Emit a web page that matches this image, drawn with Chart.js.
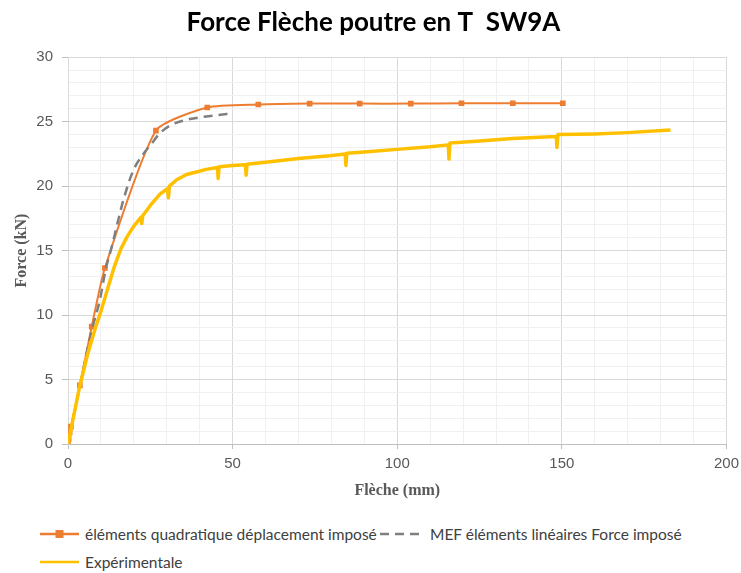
<!DOCTYPE html>
<html>
<head>
<meta charset="utf-8">
<script src="https://cdn.jsdelivr.net/npm/chart.js@4"></script>
<style>
  body { margin: 0; background: #fff; }
  .wrap { position: relative; width: 741px; height: 573px; background: #fff; overflow: hidden; }
  .chart { position: absolute; left: 0; top: 0; width: 745px; height: 505px; }
  .legend { position: absolute; left: 0; top: 0; font-family: Lato, "Noto Sans", sans-serif; font-size: 15.5px; color: #404040; }
  .item { position: absolute; white-space: nowrap; display: flex; align-items: center; }
  .item svg { margin-right: 6px; }
</style>
</head>
<body>
<div class="wrap">
  <div class="chart"><canvas id="c"></canvas></div>
  <div class="legend">
    <div class="item" style="left:40px;top:525px">
      <svg width="39" height="12"><line x1="0" y1="6" x2="39" y2="6" stroke="#ED7D31" stroke-width="2.5"/><rect x="15.5" y="2" width="8" height="8" fill="#ED7D31"/></svg>éléments quadratique déplacement imposé
    </div>
    <div class="item" style="left:380px;top:525px">
      <svg width="44" height="12"><line x1="0" y1="6" x2="44" y2="6" stroke="#7F7F7F" stroke-width="2.5" stroke-dasharray="9,6"/></svg>MEF éléments linéaires Force imposé
    </div>
    <div class="item" style="left:40px;top:553px">
      <svg width="39" height="12"><line x1="0" y1="6" x2="39" y2="6" stroke="#FFC000" stroke-width="2.5"/></svg>Expérimentale
    </div>
  </div>
</div>
<script>
  // éléments quadratiques, déplacement imposé (markers)
  const quadX = [0, 0.2, 0.5, 0.9, 3.6, 7.2, 11.2, 26.7, 42.3, 57.8, 73.4, 88.6, 104.1, 119.5, 135.1, 150.3];
  const quadY = [0, 0.4, 0.9, 1.35, 4.55, 9.1, 13.65, 24.3, 26.1, 26.33, 26.4, 26.4, 26.4, 26.43, 26.43, 26.43];

  // MEF éléments linéaires, force imposée
  const mefX = [0, 3.6, 7, 9.7, 11.5, 13.3, 15, 16.8, 19.8, 22.9, 25.4, 27.9, 31, 37, 42, 48.2, 50];
  const mefY = [0, 4.5, 8.6, 11.2, 13.6, 15.3, 17.1, 18.9, 21.2, 22.5, 23.3, 24.1, 24.7, 25.2, 25.4, 25.6, 25.65];

  // essai expérimental
  const expX = [0, 3.5, 6, 8.2, 10, 12, 14, 16, 18, 20, 22.2, 22.4, 22.7, 25, 28, 30.2, 30.5, 30.8, 33, 36, 39, 42,
    45.4, 45.6, 45.9, 50, 53.9, 54.1, 54.4, 60, 70, 79.5, 84.2, 84.4, 84.7, 90, 100.8, 110, 115.5, 115.7, 116,
    125, 135, 148.3, 148.5, 148.8, 160, 170, 183];
  const expY = [0, 4.4, 7, 8.9, 10.3, 12, 13.7, 15.1, 16.1, 16.9, 17.6, 17.1, 17.7, 18.5, 19.4, 19.8, 19.1, 20.0, 20.5, 20.9, 21.1, 21.3,
    21.45, 20.6, 21.5, 21.6, 21.65, 20.85, 21.7, 21.85, 22.15, 22.35, 22.5, 21.6, 22.55, 22.65, 22.87, 23.05, 23.2, 22.1, 23.35,
    23.5, 23.7, 23.85, 23.0, 24.0, 24.05, 24.15, 24.35];

  function pts(xs, ys) {
    return xs.map(function (x, i) { return { x: x, y: ys[i] }; });
  }

  const axisGray = "#595959";

  new Chart(document.getElementById("c"), {
    type: "line",
    data: {
      datasets: [
        {
          label: "Expérimentale",
          data: pts(expX, expY),
          borderColor: "#FFC000",
          borderWidth: 3.5,
          pointRadius: 0,
          tension: 0,
          borderJoinStyle: "round",
          order: 0,
        },
        {
          label: "MEF éléments linéaires Force imposé",
          data: pts(mefX, mefY),
          borderColor: "#7F7F7F",
          borderWidth: 2.5,
          borderDash: [9, 6],
          pointRadius: 0,
          cubicInterpolationMode: "monotone",
          order: 1,
        },
        {
          label: "éléments quadratique déplacement imposé",
          data: pts(quadX, quadY),
          borderColor: "#ED7D31",
          backgroundColor: "#ED7D31",
          borderWidth: 2,
          pointStyle: "rect",
          pointRadius: 4,
          pointBorderWidth: 0,
          tension: 0.2,
          order: 2,
        },
      ],
    },
    options: {
      responsive: true,
      maintainAspectRatio: false,
      animation: false,
      layout: { padding: { left: 10, right: 8, top: 0, bottom: 0 } },
      plugins: {
        legend: { display: false },
        tooltip: { enabled: false },
        title: {
          display: true,
          text: "Force Flèche poutre en T  SW9A",
          color: "#000",
          font: { family: "Lato, 'Noto Sans', sans-serif", size: 26, weight: "bold" },
          padding: { top: 7, bottom: 19 },
        },
      },
      scales: {
        x: {
          type: "linear",
          min: 0,
          max: 200,
          afterFit: function (s) { s.height = 61; },
          ticks: {
            stepSize: 10,
            autoSkip: false,
            maxRotation: 0,
            color: axisGray,
            padding: 6,
            font: { family: "'Liberation Sans', Arial, sans-serif", size: 15 },
            callback: function (v) { return v % 50 === 0 ? v : ""; },
          },
          grid: {
            color: function (ctx) { return ctx.tick && ctx.tick.value % 50 === 0 ? "#d9d9d9" : "#f0f0f0"; },
            tickColor: function (ctx) { return ctx.tick && ctx.tick.value % 50 === 0 ? "#bfbfbf" : "rgba(0,0,0,0)"; },
            tickLength: 5,
          },
          border: { color: "#bfbfbf" },
          title: {
            display: true,
            text: "Flèche (mm)",
            color: axisGray,
            font: { family: "'Liberation Serif', 'Times New Roman', serif", size: 16, weight: "bold" },
            padding: { top: 0, bottom: 5 },
          },
        },
        y: {
          min: 0,
          max: 30,
          afterFit: function (s) { s.width = 58; },
          ticks: {
            stepSize: 1,
            autoSkip: false,
            color: axisGray,
            padding: 9,
            font: { family: "'Liberation Sans', Arial, sans-serif", size: 15 },
            callback: function (v) { return v % 5 === 0 ? v : ""; },
          },
          grid: {
            color: function (ctx) { return ctx.tick && ctx.tick.value % 5 === 0 ? "#d9d9d9" : "#f0f0f0"; },
            tickColor: function (ctx) { return ctx.tick && ctx.tick.value % 5 === 0 ? "#bfbfbf" : "rgba(0,0,0,0)"; },
            tickLength: 6,
          },
          border: { color: "#d9d9d9" },
          title: {
            display: true,
            text: "Force (kN)",
            color: axisGray,
            font: { family: "'Liberation Serif', 'Times New Roman', serif", size: 16, weight: "bold" },
            padding: { top: 2, bottom: 0 },
          },
        },
      },
    },
  });
</script>
</body>
</html>
